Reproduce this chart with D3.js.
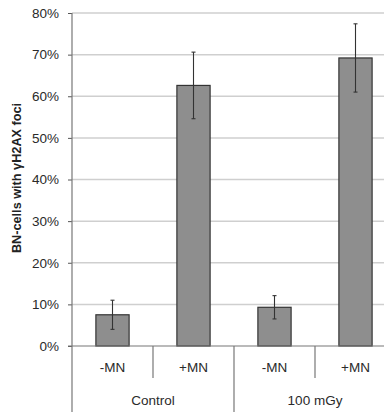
<!DOCTYPE html>
<html><head><meta charset="utf-8">
<script src="https://cdn.jsdelivr.net/npm/d3@7"></script>
<style>html,body{margin:0;padding:0;background:#fff;overflow:hidden}</style>
</head><body>
<svg id="c" width="384" height="412"></svg>
<script>
const groups = ["Control", "100 mGy"];
const subcats = ["-MN", "+MN", "-MN", "+MN"];
const values = [7.5, 62.6, 9.3, 69.2];
const errors = [3.5, 8.0, 2.8, 8.2];
const yTicks = [0, 10, 20, 30, 40, 50, 60, 70, 80];
const yLabel = "BN-cells with \u03b3H2AX foci";

const svg = d3.select("#c");
const x0 = 72, x1 = 396, yTop = 13, yBot = 346;
const y = d3.scaleLinear().domain([0, 80]).range([yBot, yTop]);
const x = d3.scaleBand().domain(d3.range(subcats.length)).range([x0, x1]).paddingInner(0.59).paddingOuter(0.295);
const xs = d3.scaleLinear().domain([0, subcats.length]).range([x0, x1]);
const font = "Liberation Sans, Arial, sans-serif";

// gridlines
svg.append("g").selectAll("line").data(yTicks.filter(d => d > 0)).join("line")
  .attr("x1", x0).attr("x2", x1).attr("y1", d => y(d)).attr("y2", d => y(d))
  .attr("stroke", "#cfcfcf").attr("stroke-width", 1.5);

// y axis
const ax = svg.append("g").attr("transform", `translate(${x0},0)`)
  .call(d3.axisLeft(y).tickValues(yTicks).tickFormat(d => d + "%").tickSize(4).tickPadding(9));
ax.select(".domain").remove();
ax.selectAll("line").attr("stroke", "#555");
ax.selectAll("text").attr("font-family", font).attr("font-size", 13.5).attr("fill", "#2a2a2a");
svg.append("line").attr("x1", x0).attr("x2", x0).attr("y1", yTop).attr("y2", 412).attr("stroke", "#777").attr("stroke-width", 1.2);

// bars
svg.append("g").selectAll("rect").data(values).join("rect")
  .attr("x", (d, i) => x(i)).attr("width", x.bandwidth())
  .attr("y", d => y(d)).attr("height", d => y(0) - y(d))
  .attr("fill", "#8e8e8e").attr("stroke", "#333").attr("stroke-width", 1.2);

// error bars
const eb = svg.append("g").attr("stroke", "#333").attr("stroke-width", 1.1);
values.forEach((v, i) => {
  const cx = x(i) + x.bandwidth() / 2;
  eb.append("line").attr("x1", cx).attr("x2", cx).attr("y1", y(v + errors[i])).attr("y2", y(v - errors[i]));
  [v + errors[i], v - errors[i]].forEach(e => eb.append("line").attr("x1", cx - 2).attr("x2", cx + 2).attr("y1", y(e)).attr("y2", y(e)));
});

// baseline
svg.append("line").attr("x1", x0 - 4).attr("x2", x1).attr("y1", yBot).attr("y2", yBot).attr("stroke", "#777").attr("stroke-width", 1.2);

// category dividers
const div = svg.append("g").attr("stroke", "#777").attr("stroke-width", 1.2);
[1, 3].forEach(k => div.append("line").attr("x1", xs(k)).attr("x2", xs(k)).attr("y1", yBot).attr("y2", 378));
[2].forEach(k => div.append("line").attr("x1", xs(k)).attr("x2", xs(k)).attr("y1", yBot).attr("y2", 412));

// sub-category labels
svg.append("g").selectAll("text").data(subcats).join("text")
  .attr("x", (d, i) => xs(i + 0.5)).attr("y", 372).attr("text-anchor", "middle")
  .attr("font-family", font).attr("font-size", 13.5).attr("fill", "#2a2a2a").text(d => d);

// group labels
svg.append("g").selectAll("text").data(groups).join("text")
  .attr("x", (d, i) => xs(i * 2 + 1)).attr("y", 405).attr("text-anchor", "middle")
  .attr("font-family", font).attr("font-size", 13.5).attr("fill", "#2a2a2a").text(d => d);

// y label
svg.append("text").attr("transform", "translate(21,178) rotate(-90)").attr("text-anchor", "middle")
  .attr("font-family", font).attr("font-size", 12.7).attr("font-weight", "bold").attr("fill", "#222").text(yLabel);
</script>
</body></html>
